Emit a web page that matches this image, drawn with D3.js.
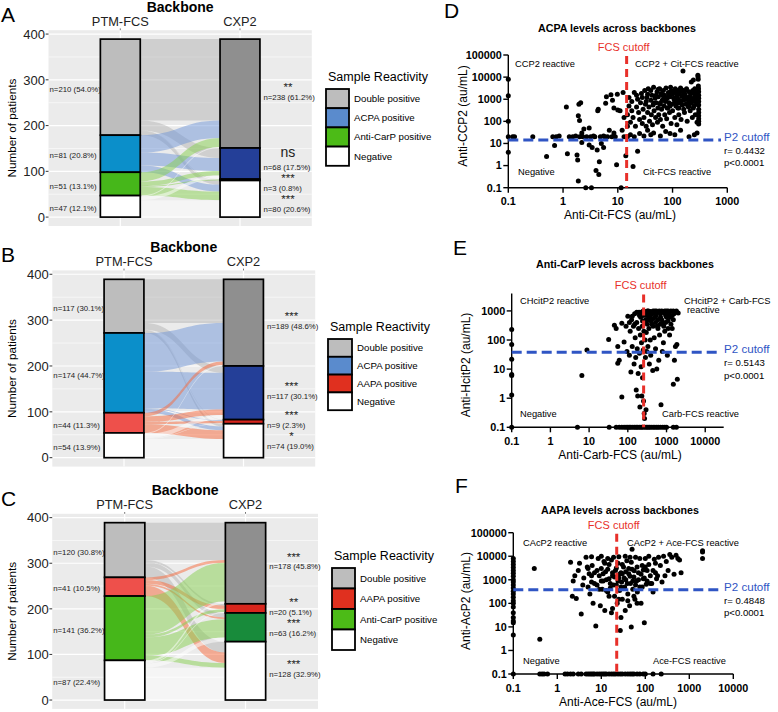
<!DOCTYPE html>
<html>
<head>
<meta charset="utf-8">
<script src="https://cdn.jsdelivr.net/npm/d3@7"></script>
<style>
  body { margin: 0; background: #fff; }
  text { font-family: "Liberation Sans", Arial, sans-serif; }
</style>
</head>
<body>
<svg id="fig" width="778" height="712"></svg>
<script>
// ---------------- data ----------------
var axisNames = ["PTM-FCS", "CXP2"];
var total = 389;

// panel A : ACPA / Anti-CarP
var catsA = ["Double positive", "ACPA positive", "Anti-CarP positive", "Negative"];
var ptmA = [210, 81, 51, 47];
var cxpA = [238, 68, 3, 80];
var flowA = [[178, 22, 1, 9], [38, 28, 0, 15], [20, 10, 2, 19], [2, 8, 0, 37]];
var sigA = ["**", "ns", "***", "***"];

// panel B : ACPA / AAPA
var catsB = ["Double positive", "ACPA positive", "AAPA positive", "Negative"];
var ptmB = [117, 174, 44, 54];
var cxpB = [189, 117, 9, 74];
var flowB = [[95, 15, 1, 6], [84, 80, 2, 8], [8, 12, 5, 19], [2, 10, 1, 41]];
var sigB = ["***", "***", "***", "*"];

// panel C : AAPA / Anti-CarP
var catsC = ["Double positive", "AAPA positive", "Anti-CarP positive", "Negative"];
var ptmC = [120, 41, 141, 87];
var cxpC = [178, 20, 63, 128];
var flowC = [[82, 4, 10, 24], [6, 8, 4, 23], [85, 6, 40, 10], [5, 2, 9, 71]];
var sigC = ["***", "**", "***", "***"];

// scatter D : Anti-Cit-FCS vs Anti-CCP2
var ptsD = [[0.1,8000],[0.1,1450],[0.1,100],[0.1,20],[0.1,4],[0.12,20],[0.13,20],
  [0.28,20],[0.5,2.6],[0.65,20],[0.7,8],[0.75,20],[0.85,22],[1.15,450],[1.2,3.4],[1.3,20],[1.5,20],
  [1.7,22],[1.8,3],[1.85,1.8],[1.9,0.2],[1.9,180],[1.95,600],[2,110],[2.1,700],[2,20],[2.2,30],
  [2.3,20],[2.2,11],[2.4,45],[2.6,0.1],[2.7,20],[3,8.5],[3,50],[3.2,20],[3.3,0.1],[3.4,6.5],
  [3.6,22],[3.8,20],[4,0.6],[4.2,5],[4.3,300],[4.4,350],[4.5,0.4],[4.6,1.5],[4.8,20],[5,10],
  [5.5,6.5],[5.8,20],[6.2,1300],[6.5,20],[7,40],[7.5,1600],[7.8,20],[8,900],[8.5,30],[9,20],
  [9.5,1.1],[9.8,1700],[10,330],[11,300],[11.5,0.1],[12,40],[12.5,2000],[13,150],[13,20],
  [6,650],[8.5,400],[5.5,22],
  [14,2.8],[15,20],[17,25],[19,0.9],[20,20],[23,4.5],[25,28],[30,22],[35,40],[40,25],[45,30],
  [60,22],[75,35],[90,28],[110,25],[140,40],[200,20],[250,25],[280,30],
  [15,60],[15,200],[16,500],[16,1200],[17,90],[18,300],[18,800],[19,150],[20,2000],[21,60],
  [22,450],[23,1000],[24,250],[25,120],[26,700],[27,1800],[28,80],[29,350],[30,150],[31,2500],
  [32,600],[33,60],[34,1200],[35,250],[36,3000],[37,450],[38,100],[40,900],[41,200],[42,1500],
  [43,70],[44,550],[45,3500],[46,300],[48,1100],[49,150],[50,700],[52,2200],[53,90],[54,400],
  [55,1300],[56,200],[58,3000],[59,600],[60,120],[62,1800],[63,350],[65,900],[66,60],[68,2500],
  [70,500],[71,1500],[72,200],[74,800],[76,3200],[78,130],[80,1100],[82,400],[84,2000],[86,700],
  [88,250],[90,1300],[92,3500],[94,80],[96,600],[98,1700],[100,300],[105,2200],[108,900],
  [110,150],[112,3000],[115,500],[118,1200],[120,70],[122,2500],[125,400],[128,1000],[130,200],
  [133,1800],[136,700],[140,3200],[143,120],[146,1400],[150,550],[155,19000],[158,2000],
  [160,900],[165,250],[170,1600],[175,600],[180,3000],[185,100],[190,1200],[195,450],[200,2200],
  [205,800],[210,300],[215,1800],[220,6000],[225,1000],[230,150],[235,2500],[240,7500],
  [245,500],[250,1200],[255,3000],[260,200],[265,900],[270,2000],[275,600],[280,90],[285,1500],
  [290,12000],[292,10000],[294,8000],[296,4000],[298,3000],[300,2200],[300,1500],[300,1100],
  [300,800],[300,550],[300,350],[300,250],[300,180],[300,130],[300,100],[300,75],
  [35,1700],[45,650],[55,2800],[65,1500],[75,950],[85,1600],[95,2400],[105,1100],[115,1900],
  [125,700],[135,2700],[145,850],[160,1300],[170,2400],[190,650],[210,1400],[230,2100],
  [250,800],[270,1300],[28,1200],[40,2500],[60,700],[80,400],[100,1800],[130,400],[160,350],
  [200,500],[240,400],[280,1000],[150,2600],[110,650],[70,1200],[50,1500],[33,800],[22,1500],
  [180,1000],[220,700],[260,1600],[90,500],[120,1500]];

// scatter E : Anti-Carb-FCS vs Anti-HcitP2
var ptsE = [[0.1,230],[0.1,70],[0.1,22],[0.1,6.5],[0.1,6],[0.1,1.3],[0.1,0.1],
  [5,0.1],[33,0.1],[50,0.1],[60,0.1],[70,0.1],[80,0.1],[90,0.1],[100,0.1],[110,0.1],[120,0.1],
  [135,0.1],[150,0.1],[165,0.1],[180,0.1],[200,0.1],[220,0.1],[240,0.1],[270,0.1],[300,0.1],
  [330,0.1],[360,0.1],[400,0.1],[450,0.1],[500,0.1],[560,0.1],[620,0.1],[700,0.1],[800,0.1],
  [900,0.1],[1000,0.1],[1500,0.1],[1800,0.1],
  [6.5,6],[8.8,45],[32,105],[45,320],[50,250],[55,60],[55,16],[70,1.1],[70,380],[80,85],
  [60,20],[95,40],
  [100,650],[110,30],[115,200],[120,8],[125,500],[130,60],[140,300],[145,15],[150,800],
  [155,120],[160,25],[165,1.9],[170,400],[175,50],[180,1.2],[185,7],[190,250],[195,900],
  [200,35],[205,0.5],[210,150],[215,600],[220,12],[225,80],[230,1.2],[235,300],[240,5],
  [245,700],[250,45],[255,0.8],[260,200],[265,0.3],[270,0.2],[275,950],[280,100],[285,25],
  [290,500],[295,0.4],[300,180],[310,40],[320,800],[330,60],[340,1000],[350,250],[360,15],
  [370,650],[380,100],[390,30],[400,900],[420,350],[440,9],[460,550],[480,120],[500,1000],
  [520,50],[540,700],[560,10],[580,300],[600,950],[630,20],[660,150],[700,600],[720,0.6],
  [750,1000],[780,40],[800,400],[830,80],[860,900],[900,200],[950,700],[1000,1000],[1050,30],
  [1100,450],[1150,900],[1200,150],[1250,600],[1300,1000],[1400,250],[1500,3],[1550,800],
  [1600,20],[1700,60],[1800,1000],[1850,70],[1900,4.5],[2000,850],
  [220,900],[260,850],[300,700],[340,500],[380,950],[420,800],[460,900],[500,600],[550,850],
  [600,500],[650,900],[700,800],[800,950],[900,850],[1000,600],[1100,800],[1200,950],
  [1400,700],[1600,900],[240,450],[280,400],[320,350],[360,600],[400,450],[450,300],[520,400],
  [600,250],[680,350],[750,500],[850,300],[950,400],[1100,250],[1300,350],[1500,500],[200,700],
  [170,900],[150,350],[130,650],[110,400],[90,300],[250,1000],[320,1000],[450,1000],[550,1000],
  [650,1000],[900,1000],[1100,1000],[1500,1000]];

// scatter F : Anti-Ace-FCS vs Anti-AcP2
var ptsF = [[0.1,8000],[0.1,6000],[0.1,4500],[0.1,3300],[0.1,2500],[0.1,1900],[0.1,1400],
  [0.1,1000],[0.1,800],[0.1,600],[0.1,450],[0.1,330],[0.1,250],[0.1,180],[0.1,130],[0.1,100],
  [0.1,70],[0.1,40],[0.1,25],[0.1,18],[0.1,15],[0.1,4.5],[0.1,0.1],[0.3,3000],[0.4,3],
  [0.4,0.1],[0.45,0.1],[0.5,0.1],[0.6,0.1],[1.5,0.1],[1.7,0.1],[2,0.1],[2.3,0.1],[3,0.1],
  [3.5,0.1],[4.5,0.1],[5,0.1],[5.5,0.1],[6,0.1],[6.5,0.1],[7,0.1],[8,0.1],[9,0.1],[10,0.1],
  [11,0.1],[12,0.1],[13,0.1],[15,0.1],[17,0.1],[19,0.1],[21,0.1],[24,0.1],[27,0.1],[30,0.1],
  [35,0.1],[40,0.1],[45,0.1],[50,0.1],[55,0.1],[65,0.1],[75,0.1],[90,0.1],[100,0.1],[150,0.1],
  [230,0.1],
  [2,5500],[2.2,200],[2.3,900],[2.5,1500],[2.7,160],[3,2500],[3.2,5000],[3.5,35],[3.8,600],
  [4,1200],[4.5,9000],[4.8,3500],[5,500],[5.3,1800],[5.5,250],[6,800],[6.2,4000],[6.5,100],
  [7,2000],[7.5,11],[8,600],[8.5,8000],[9,1500],[9.5,80],[10,3000],[10.5,400],[11,900],
  [11.5,6000],[12,50],[12.5,2200],[13,1000],[14,300],[15,4500],[16,700],[17,40],[18,1500],
  [19,9000],[20,200],[21,2500],[22,600],[23,100],[24,5000],[25,1200],[26,350],[27,7],[28,2000],
  [29,800],[30,150],[32,3500],[34,500],[36,1000],[38,6500],[40,250],[42,1800],[44,80],[46,700],
  [48,10],[50,2800],[52,400],[55,1300],[58,150],[60,9000],[63,900],[66,300],[70,2000],[75,500],
  [80,100],[85,4000],[90,1100],[95,15],[100,8000],[105,650],[110,2500],[120,10000],[130,1500],
  [140,700],[150,300],[160,7500],[170,2000],[180,1100],[200,9000],[220,4000],[240,800],
  [260,10000],[280,1500],[300,6000],[330,2500],[360,12000],[400,9000],[450,1700],[500,11000],
  [550,8000],[600,7000],[650,2000],[2000,15000],[2000,17000],[2000,8000],[50,20000],
  [5,3000],[6,1500],[7,700],[8,2500],[9,400],[10,900],[11,1800],[12,5000],[13,350],[14,2800],
  [15,1100],[16,450],[17,7000],[18,2000],[19,600],[20,1300],[22,3200],[24,900],[26,1700],
  [28,500],[30,4500],[33,1200],[36,2200],[39,700],[42,3000],[45,1400],[48,5500],[52,900],
  [56,2400],[60,600],[65,3500],[70,1000],[75,8000],[80,1700],[85,500],[90,2600],[95,1200],
  [100,3500],[110,900],[120,4500],[130,700],[150,2500],[170,5000],[190,1500],[6,9500],
  [10,10000],[14,8000],[25,9500],[35,10000],[45,9000],[15,200],[25,150],[35,50],[18,60],
  [28,25],[40,130],[55,200],[65,100],[30,1800]];

// ---------------- colours ----------------
var ptmFill = {"Double positive": "#bdbdbd", "ACPA positive": "#0b8fca", "Anti-CarP positive": "#46b71a",
               "AAPA positive": "#ee504b", "Negative": "#ffffff"};
var cxpFill = {"Double positive": "#8f8f8f", "ACPA positive": "#243f98", "Anti-CarP positive": "#188b3b",
               "AAPA positive": "#d8261d", "Negative": "#ffffff"};
var flowFill = {"Double positive": "#b3b3b3", "ACPA positive": "#6f96d8", "Anti-CarP positive": "#86d04e",
                "AAPA positive": "#f7683a", "Negative": "#ffffff"};
var keyFill = {"Double positive": "#bdbdbd", "ACPA positive": "#5a8bcd", "Anti-CarP positive": "#4cbb17",
               "AAPA positive": "#e0301f", "Negative": "#ffffff"};
var cutRed = "#e8302a";
var cutBlue = "#2f55c4";

var svg = d3.select("#fig");
var pct = d3.format(".1f");

// ---------------- alluvial panels ----------------
function drawAlluvial(cfg) {
  var g = svg.append("g");
  var x = d3.scaleLinear().domain([0.4, 2.6]).range([cfg.left, cfg.right]);
  var y = d3.scaleLinear().domain([-total * 0.05, total * 1.05]).range([cfg.bottom, cfg.top]);
  var w = x(1 + 1 / 6) - x(1 - 1 / 6);

  // panel letter + title
  g.append("text").attr("x", 1).attr("y", cfg.top - 8).attr("font-size", 21).text(cfg.letter);
  g.append("text").attr("x", (cfg.left + cfg.right) / 2).attr("y", cfg.top - 18.5)
    .attr("text-anchor", "middle").attr("font-size", 14).attr("font-weight", "bold").text("Backbone");

  // ggplot grey panel with grid
  g.append("rect").attr("x", cfg.left).attr("y", cfg.top)
    .attr("width", cfg.right - cfg.left).attr("height", cfg.bottom - cfg.top).attr("fill", "#ebebeb");
  g.selectAll(".minor").data([50, 150, 250, 350]).enter().append("line")
    .attr("x1", cfg.left).attr("x2", cfg.right)
    .attr("y1", function(d) { return y(d); }).attr("y2", function(d) { return y(d); })
    .attr("stroke", "#fff").attr("stroke-width", 0.6);
  g.selectAll(".major").data([0, 100, 200, 300, 400]).enter().append("line")
    .attr("x1", cfg.left).attr("x2", cfg.right)
    .attr("y1", function(d) { return y(d); }).attr("y2", function(d) { return y(d); })
    .attr("stroke", "#fff").attr("stroke-width", 1.2);
  [1, 2].forEach(function(p) {
    g.append("line").attr("x1", x(p)).attr("x2", x(p)).attr("y1", cfg.top).attr("y2", cfg.bottom)
      .attr("stroke", "#fff").attr("stroke-width", 1.2);
  });

  // y axis
  [0, 100, 200, 300, 400].forEach(function(v) {
    g.append("line").attr("x1", cfg.left - 2.8).attr("x2", cfg.left).attr("y1", y(v)).attr("y2", y(v))
      .attr("stroke", "#333").attr("stroke-width", 1);
    g.append("text").attr("x", cfg.left - 3.5).attr("y", y(v)).attr("dy", "0.36em")
      .attr("text-anchor", "end").attr("font-size", 13).attr("fill", "#222").text(v);
  });
  g.append("text").attr("transform", "translate(16," + ((cfg.top + cfg.bottom) / 2) + ") rotate(-90)")
    .attr("text-anchor", "middle").attr("font-size", 11.7).text("Number of patients");

  // top x axis
  axisNames.forEach(function(name, k) {
    g.append("line").attr("x1", x(k + 1)).attr("x2", x(k + 1)).attr("y1", cfg.top - 1.8).attr("y2", cfg.top)
      .attr("stroke", "#555").attr("stroke-width", 0.8);
    g.append("text").attr("x", x(k + 1)).attr("y", cfg.top - 4.5).attr("text-anchor", "middle")
      .attr("font-size", 12.8).attr("fill", "#222").text(name);
  });

  // stacking
  var cats = cfg.cats;
  var lTop = [], rTop = [], acc = total;
  cfg.ptm.forEach(function(v, i) { lTop[i] = acc; acc -= v; });
  acc = total;
  cfg.cxp.forEach(function(v, j) { rTop[j] = acc; acc -= v; });
  var lOff = lTop.slice(), rOff = rTop.slice(), flows = [];
  cfg.flow.forEach(function(row, i) {
    row.forEach(function(v, j) {
      if (v > 0) flows.push({i: i, j: j, v: v, l: lOff[i], r: rOff[j]});
      lOff[i] -= v; rOff[j] -= v;
    });
  });

  var xa = x(1) + w / 2, xb = x(2) - w / 2, xm = (xa + xb) / 2;
  g.selectAll(".flow").data(flows).enter().append("path")
    .attr("d", function(f) {
      var a1 = y(f.l), a2 = y(f.l - f.v), b1 = y(f.r), b2 = y(f.r - f.v);
      return "M" + xa + "," + a1 + "C" + xm + "," + a1 + " " + xm + "," + b1 + " " + xb + "," + b1 +
             "L" + xb + "," + b2 + "C" + xm + "," + b2 + " " + xm + "," + a2 + " " + xa + "," + a2 + "Z";
    })
    .attr("fill", function(f) { return flowFill[cats[f.i]]; })
    .attr("fill-opacity", 0.5);

  // strata
  function strata(vals, tops, pos, fills) {
    vals.forEach(function(v, i) {
      g.append("rect").attr("x", x(pos) - w / 2).attr("y", y(tops[i]))
        .attr("width", w).attr("height", y(tops[i] - v) - y(tops[i]))
        .attr("fill", fills[cats[i]]).attr("stroke", "#000").attr("stroke-width", 1.7);
    });
  }
  strata(cfg.ptm, lTop, 1, ptmFill);
  strata(cfg.cxp, rTop, 2, cxpFill);

  // count labels
  cfg.ptm.forEach(function(v, i) {
    g.append("text").attr("x", cfg.left + 1).attr("y", y(lTop[i] - v / 2) + 2).attr("dy", "0.35em")
      .attr("font-size", 7.8).attr("fill", "#222").text("n=" + v + " (" + pct(v / total * 100) + "%)");
  });
  var xr = x(2) + w / 2, prev = -Infinity;
  cfg.cxp.forEach(function(v, j) {
    // keep each (stars + count) pair clear of the one above
    var c = Math.max(y(rTop[j] - v / 2) + 3.5, prev + 21);
    prev = c;
    g.append("text").attr("x", xr + 3.5).attr("y", c).attr("dy", "0.35em")
      .attr("font-size", 7.8).attr("fill", "#222").text("n=" + v + " (" + pct(v / total * 100) + "%)");
    var ns = cfg.sig[j] === "ns";
    g.append("text").attr("x", xr + 28).attr("y", ns ? c - 10.5 : c - 6)
      .attr("text-anchor", "middle").attr("font-size", ns ? 14 : 11.5).attr("fill", "#222").text(cfg.sig[j]);
  });

  // legend
  var L = cfg.legend;
  g.append("text").attr("x", L.x + 2).attr("y", L.y - 8).attr("font-size", 12.5).text("Sample Reactivity");
  cats.forEach(function(c, i) {
    g.append("rect").attr("x", L.x).attr("y", L.y + i * L.h).attr("width", L.w).attr("height", L.h)
      .attr("fill", keyFill[c]).attr("stroke", "#000").attr("stroke-width", 1.8);
    g.append("text").attr("x", L.x + L.w + 5).attr("y", L.y + (i + 0.5) * L.h).attr("dy", "0.35em")
      .attr("font-size", 9.7).text(c);
  });
}

drawAlluvial({letter: "A", cats: catsA, ptm: ptmA, cxp: cxpA, flow: flowA, sig: sigA,
  left: 48.5, right: 311.8, top: 30.2, bottom: 226,
  legend: {x: 326, y: 89, w: 23, h: 19.2}});
drawAlluvial({letter: "B", cats: catsB, ptm: ptmB, cxp: cxpB, flow: flowB, sig: sigB,
  left: 52.3, right: 315.2, top: 270.4, bottom: 466.6,
  legend: {x: 328, y: 339, w: 24, h: 17.8}});
drawAlluvial({letter: "C", cats: catsC, ptm: ptmC, cxp: cxpC, flow: flowC, sig: sigC,
  left: 52.2, right: 318, top: 513.8, bottom: 708.9,
  legend: {x: 332, y: 568, w: 23, h: 20.5}});

// ---------------- scatter panels ----------------
function drawScatter(cfg) {
  var g = svg.append("g");
  var x = d3.scaleLog().domain(cfg.xDom).range(cfg.xRange);
  var y = d3.scaleLog().domain(cfg.yDom).range(cfg.yRange);
  var x0 = cfg.xRange[0], x1 = cfg.xRange[1], y0 = cfg.yRange[0], y1 = cfg.yRange[1];

  g.append("text").attr("x", cfg.letterX).attr("y", cfg.letterY).attr("font-size", 21).text(cfg.letter);
  g.append("text").attr("x", cfg.titleX).attr("y", cfg.titleY).attr("text-anchor", "middle")
    .attr("font-size", 10.7).attr("font-weight", "bold").text(cfg.title);

  // axes
  g.append("line").attr("x1", x0).attr("x2", x0).attr("y1", y0).attr("y2", y1)
    .attr("stroke", "#000").attr("stroke-width", 1.4);
  g.append("line").attr("x1", x0).attr("x2", x1).attr("y1", y0).attr("y2", y0)
    .attr("stroke", "#000").attr("stroke-width", 1.4);
  cfg.xTicks.forEach(function(t) {
    g.append("line").attr("x1", x(t)).attr("x2", x(t)).attr("y1", y0).attr("y2", y0 + 5)
      .attr("stroke", "#000").attr("stroke-width", 1.4);
    g.append("text").attr("x", x(t)).attr("y", y0 + 17.5).attr("text-anchor", "middle")
      .attr("font-size", 10.8).attr("font-weight", "bold").text(t);
  });
  cfg.yTicks.forEach(function(t) {
    g.append("line").attr("x1", x0 - 5).attr("x2", x0).attr("y1", y(t)).attr("y2", y(t))
      .attr("stroke", "#000").attr("stroke-width", 1.4);
    g.append("text").attr("x", x0 - 6.5).attr("y", y(t)).attr("dy", "0.36em").attr("text-anchor", "end")
      .attr("font-size", 10.8).attr("font-weight", "bold").text(t);
  });
  g.append("text").attr("x", cfg.xTitleX).attr("y", y0 + 31.5).attr("text-anchor", "middle")
    .attr("font-size", 12).text(cfg.xTitle);
  g.append("text").attr("transform", "translate(" + cfg.yTitleX + "," + cfg.yTitleY + ") rotate(-90)")
    .attr("text-anchor", "middle").attr("font-size", 12).text(cfg.yTitle);

  // points
  g.selectAll(".pt").data(cfg.pts).enter().append("circle")
    .attr("cx", function(d) { return x(d[0]); }).attr("cy", function(d) { return y(d[1]); })
    .attr("r", 2.5).attr("fill", "#000");

  // cutoffs
  g.append("line").attr("x1", x(cfg.xCut)).attr("x2", x(cfg.xCut)).attr("y1", y1 + 1).attr("y2", y0)
    .attr("stroke", cutRed).attr("stroke-width", 3).attr("stroke-dasharray", "8,5");
  g.append("text").attr("x", x(cfg.xCut) - 3).attr("y", y1 - 4).attr("text-anchor", "middle")
    .attr("font-size", 11).attr("fill", cutRed).text("FCS cutoff");
  g.append("line").attr("x1", x0).attr("x2", 721).attr("y1", y(cfg.yCut)).attr("y2", y(cfg.yCut))
    .attr("stroke", cutBlue).attr("stroke-width", 3).attr("stroke-dasharray", "10,5");
  g.append("text").attr("x", 724).attr("y", y(cfg.yCut) + 1).attr("font-size", 11.6)
    .attr("fill", cutBlue).text("P2 cutoff");
  g.append("text").attr("x", 724).attr("y", y(cfg.yCut) + 14).attr("font-size", 9.6).text(cfg.r);
  g.append("text").attr("x", 724).attr("y", y(cfg.yCut) + 26.5).attr("font-size", 9.6).text("p<0.0001");

  // quadrant annotations
  cfg.quads.forEach(function(q) {
    g.append("text").attr("x", q[1]).attr("y", q[2]).attr("font-size", 9.3).text(q[0]);
  });
}

drawScatter({letter: "D", letterX: 444, letterY: 18, title: "ACPA levels across backbones",
  titleX: 617, titleY: 31.5, pts: ptsD,
  xDom: [0.1, 1000], xRange: [508.3, 727.3], yDom: [0.1, 100000], yRange: [187.7, 55],
  xTicks: [0.1, 1, 10, 100, 1000], yTicks: [0.1, 1, 10, 100, 1000, 10000, 100000],
  xCut: 14.5, yCut: 14.4, r: "r= 0.4432",
  xTitle: "Anti-Cit-FCS (au/mL)", xTitleX: 620, yTitle: "Anti-CCP2 (au/mL)", yTitleX: 467, yTitleY: 116,
  quads: [["CCP2 reactive", 515, 67], ["CCP2 + Cit-FCS reactive", 635, 67],
          ["Negative", 518, 175], ["Cit-FCS reactive", 643, 175]]});

drawScatter({letter: "E", letterX: 453, letterY: 255, title: "Anti-CarP levels across backbones",
  titleX: 625, titleY: 268, pts: ptsE,
  xDom: [0.1, 30000], xRange: [511.7, 723.7], yDom: [0.1, 4000], yRange: [427.3, 293.4],
  xTicks: [0.1, 1, 10, 100, 1000, 10000], yTicks: [0.1, 1, 10, 100, 1000],
  xCut: 256, yCut: 38, r: "r= 0.5143",
  xTitle: "Anti-Carb-FCS (au/mL)", xTitleX: 620, yTitle: "Anti-HcitP2 (au/mL)", yTitleX: 470, yTitleY: 365,
  quads: [["CHcitP2 reactive", 520, 304], ["CHcitP2 + Carb-FCS", 684, 303.5], ["reactive", 687, 312.5],
          ["Negative", 520, 417], ["Carb-FCS reactive", 662, 417]]});

drawScatter({letter: "F", letterX: 455, letterY: 493, title: "AAPA levels across backbones",
  titleX: 620, titleY: 514, pts: ptsF,
  xDom: [0.1, 10000], xRange: [513.3, 733.3], yDom: [0.1, 100000], yRange: [674, 532.7],
  xTicks: [0.1, 1, 10, 100, 1000, 10000], yTicks: [0.1, 1, 10, 100, 1000, 10000, 100000],
  xCut: 22.4, yCut: 376, r: "r= 0.4848",
  xTitle: "Anti-Ace-FCS (au/mL)", xTitleX: 618, yTitle: "Anti-AcP2 (au/mL)", yTitleX: 470, yTitleY: 601,
  quads: [["CAcP2 reactive", 523, 546], ["CAcP2 + Ace-FCS reactive", 627, 546],
          ["Negative", 523, 664], ["Ace-FCS reactive", 653, 664]]});
</script>
</body>
</html>
